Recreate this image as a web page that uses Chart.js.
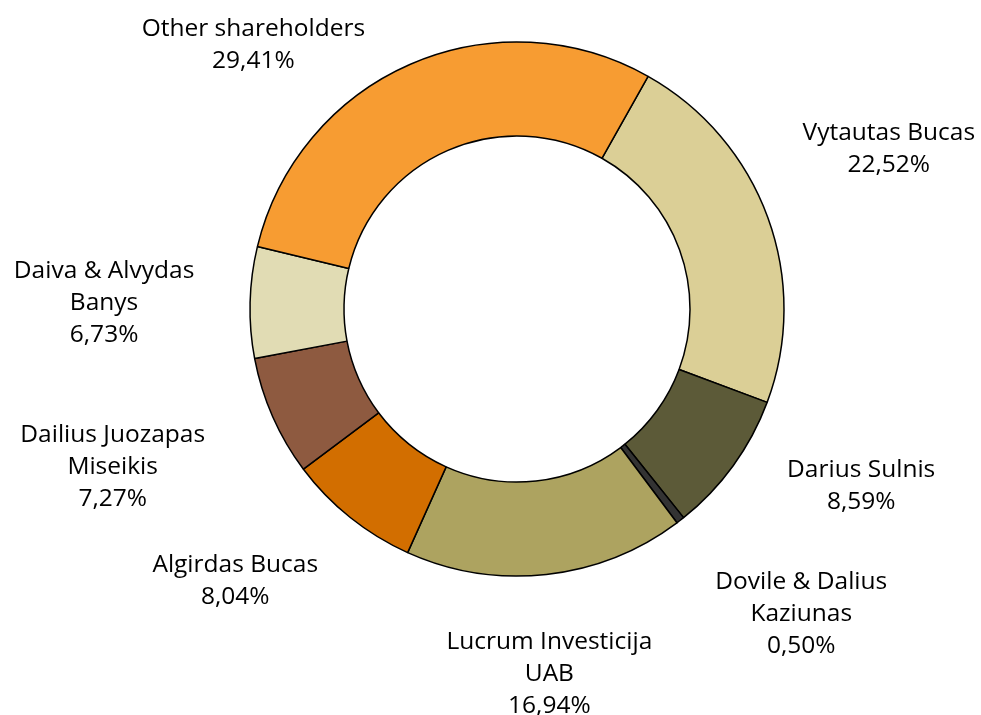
<!DOCTYPE html>
<html>
<head>
<meta charset="utf-8">
<script src="https://cdn.jsdelivr.net/npm/chart.js@4.4.1/dist/chart.umd.min.js"></script>
<style>
  html, body { margin: 0; padding: 0; background: #fff; }
  #wrap { width: 981px; height: 715px; }
</style>
</head>
<body>
<div id="wrap"><canvas id="donut" width="981" height="715"></canvas></div>
<script>
// shareholders, clockwise from the Vytautas Bucas slice
const holders = [
  ['Vytautas Bucas'],
  ['Darius Sulnis'],
  ['Dovile & Dalius', 'Kaziunas'],
  ['Lucrum Investicija', 'UAB'],
  ['Algirdas Bucas'],
  ['Dailius Juozapas', 'Miseikis'],
  ['Daiva & Alvydas', 'Banys'],
  ['Other shareholders']
];
const shares = [22.52, 8.59, 0.50, 16.94, 8.04, 7.27, 6.73, 29.41];
const sliceColors = ['#DBCF96', '#5C5A38', '#333333', '#ADA360', '#D26E00', '#8E5A40', '#E1DCB4', '#F79C32'];

// where each label block sits relative to the outer edge of its slice (hand-placed labels)
const labelNudge = [[121, -61], [128, 27], [121, 101], [3, 107], [-115, 70], [-160, 57], [-146, 8], [-157, -12]];

const fmt = v => v.toFixed(2).replace('.', ',') + '%';

const outsideLabels = {
  id: 'outsideLabels',
  afterDatasetsDraw(chart) {
    const ctx = chart.ctx;
    const meta = chart.getDatasetMeta(0);
    ctx.save();
    ctx.font = '24.5px "Open Sans", sans-serif';
    ctx.fillStyle = '#000';
    ctx.textAlign = 'center';
    ctx.textBaseline = 'alphabetic';
    const lineH = 32;
    meta.data.forEach((arc, i) => {
      const p = arc.getProps(['x', 'y', 'startAngle', 'endAngle', 'outerRadius'], true);
      const mid = (p.startAngle + p.endAngle) / 2;
      const ax = p.x + Math.cos(mid) * p.outerRadius;
      const ay = p.y + Math.sin(mid) * p.outerRadius;
      const lines = holders[i].concat([fmt(shares[i])]);
      const cx = ax + labelNudge[i][0];
      const cy = ay + labelNudge[i][1];
      const first = cy - (lines.length - 1) * lineH / 2;
      lines.forEach((t, k) => ctx.fillText(t, cx, first + k * lineH));
    });
    ctx.restore();
  }
};

new Chart(document.getElementById('donut'), {
  type: 'doughnut',
  data: {
    labels: holders.map(h => h.join(' ')),
    datasets: [{
      data: shares,
      backgroundColor: sliceColors,
      borderColor: '#000',
      borderWidth: 1.5,
      hoverOffset: 0
    }]
  },
  options: {
    responsive: false,
    animation: false,
    rotation: 29.4,
    radius: 267,
    cutout: '64.8%',
    layout: { padding: { left: 53, right: 0, top: 0, bottom: 97 } },
    plugins: {
      legend: { display: false },
      tooltip: { enabled: false }
    }
  },
  plugins: [outsideLabels]
});
</script>
</body>
</html>
